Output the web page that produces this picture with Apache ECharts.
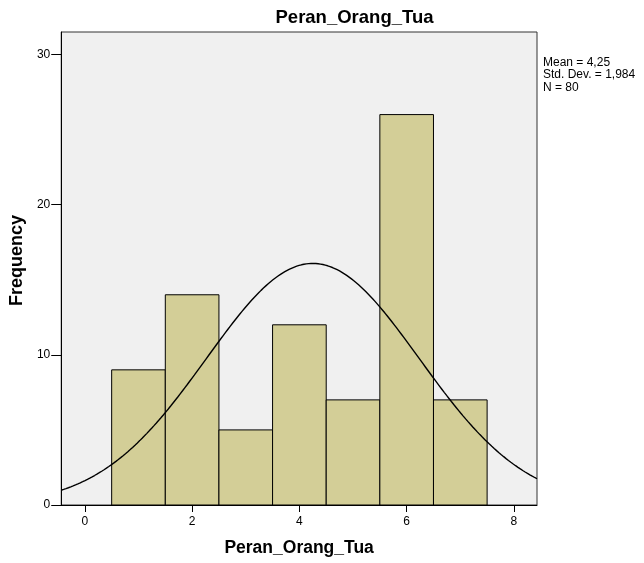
<!DOCTYPE html>
<html>
<head>
<meta charset="utf-8">
<script src="https://cdn.jsdelivr.net/npm/echarts@6/dist/echarts.min.js"></script>
<style>
  html, body { margin: 0; padding: 0; background: #ffffff; }
  #chart { width: 644px; height: 563px; }
</style>
</head>
<body>
<div id="chart"></div>
<script>
// ---- data ----
const chartTitle = 'Peran_Orang_Tua';
const xAxisName = 'Peran_Orang_Tua';
const yAxisName = 'Frequency';
const binCenters = [1, 2, 3, 4, 5, 6, 7];
const frequencies = [9, 14, 5, 12, 7, 26, 7];
const binWidth = 1;
const xTicks = [0, 2, 4, 6, 8];
const yTicks = [0, 10, 20, 30];
const xRange = [-0.44, 8.43];
const yRange = [0, 31.5];
const meanValue = 4.25;
const stdDevValue = 1.984;
const nValue = 80;
const statsLines = ['Mean = 4,25', 'Std. Dev. = 1,984', 'N = 80'];

// bars table
const barData = binCenters.map((c, i) => [c, frequencies[i]]);

// fitted normal curve from the reported mean / std. dev. / N
const curveData = [];
for (let k = 0; k <= 200; k++) {
  const x = xRange[0] + (xRange[1] - xRange[0]) * k / 200;
  const z = (x - meanValue) / stdDevValue;
  const y = nValue * binWidth * Math.exp(-0.5 * z * z) / (stdDevValue * Math.sqrt(2 * Math.PI));
  curveData.push([x, y]);
}

const FONT = '"Liberation Sans", Arial, sans-serif';
const chart = echarts.init(document.getElementById('chart'), null, { renderer: 'canvas' });

chart.setOption({
  animation: false,
  backgroundColor: '#ffffff',
  grid: {
    left: 58, right: 107, top: 32, bottom: 58,
    show: true,
    backgroundColor: '#F0F0F0',
    borderColor: '#333333',
    borderWidth: 1
  },
  xAxis: {
    type: 'value',
    min: xRange[0],
    max: xRange[1],
    name: xAxisName,
    nameLocation: 'middle',
    nameGap: 34,
    nameTextStyle: { fontFamily: FONT, fontSize: 17.5, fontWeight: 'bold', color: '#000' },
    axisLine: { show: true, onZero: false, lineStyle: { color: '#000', width: 1 } },
    axisTick: { show: true, length: 7, customValues: xTicks, lineStyle: { color: '#000' } },
    axisLabel: { customValues: xTicks, margin: 11, fontFamily: FONT, fontSize: 12, color: '#000' },
    splitLine: { show: false }
  },
  yAxis: {
    type: 'value',
    min: yRange[0],
    max: yRange[1],
    name: yAxisName,
    nameLocation: 'middle',
    nameRotate: 90,
    nameGap: 27,
    nameTextStyle: { fontFamily: FONT, fontSize: 18, fontWeight: 'bold', color: '#000', padding: [0, 0, 0, 16] },
    axisLine: { show: true, onZero: false, lineStyle: { color: '#000', width: 1 } },
    axisTick: { show: true, length: 10, customValues: yTicks, lineStyle: { color: '#000' } },
    axisLabel: { customValues: yTicks, margin: 11, fontFamily: FONT, fontSize: 12, color: '#000' },
    splitLine: { show: false }
  },
  graphic: [
    {
      type: 'text',
      x: 354.5, y: 18.4,
      style: {
        text: chartTitle,
        font: 'bold 18.5px ' + FONT,
        fill: '#000',
        textAlign: 'center',
        textVerticalAlign: 'middle'
      }
    },
    {
      type: 'text',
      x: 543, y: 56,
      style: {
        text: statsLines.join('\n'),
        font: '12px ' + FONT,
        lineHeight: 12.5,
        fill: '#000',
        textAlign: 'left',
        textVerticalAlign: 'top'
      }
    }
  ],
  series: [
    {
      type: 'custom',
      data: barData,
      z: 2,
      renderItem: function (params, api) {
        const c = api.value(0);
        const h = api.value(1);
        const p0 = api.coord([c - binWidth / 2, h]);
        const p1 = api.coord([c + binWidth / 2, 0]);
        return {
          type: 'rect',
          shape: { x: p0[0], y: p0[1], width: p1[0] - p0[0], height: p1[1] - p0[1] },
          style: { fill: '#D3CE97', stroke: '#000', lineWidth: 1 }
        };
      }
    },
    {
      type: 'line',
      data: curveData,
      z: 3,
      showSymbol: false,
      smooth: false,
      clip: true,
      lineStyle: { color: '#000', width: 1.4 }
    }
  ]
});
</script>
</body>
</html>
